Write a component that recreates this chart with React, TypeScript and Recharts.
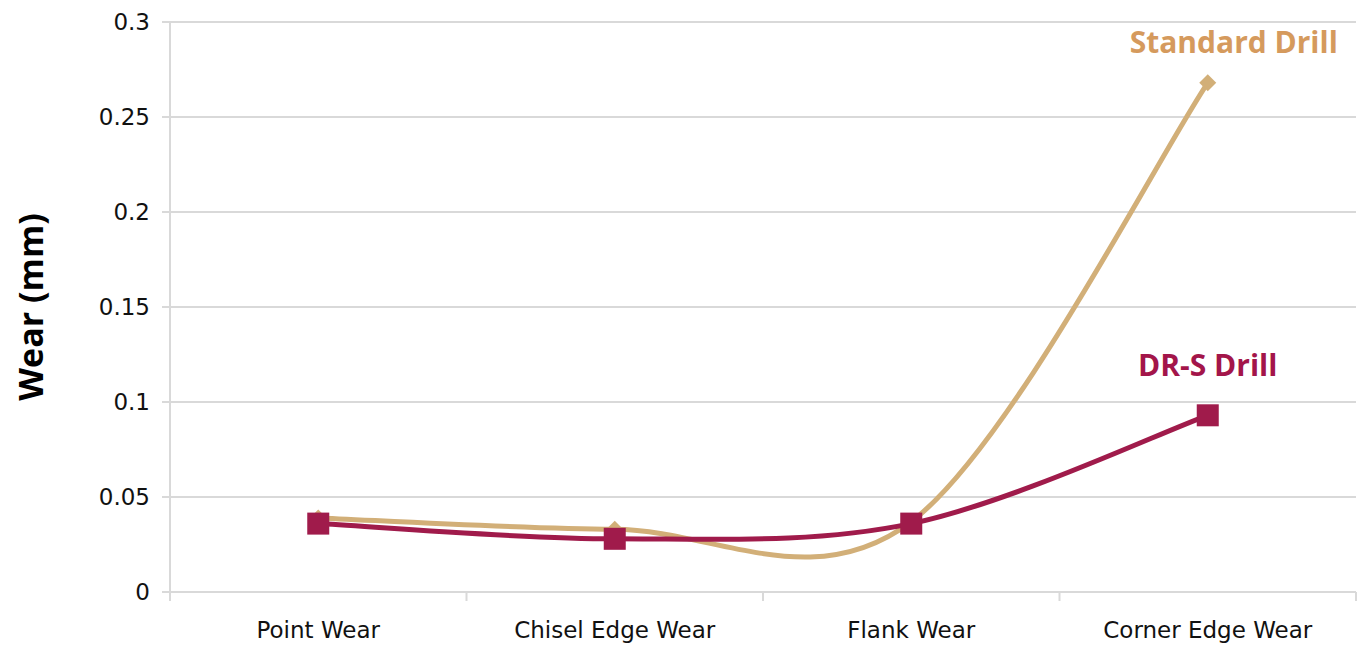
import { LineChart, Line, XAxis, YAxis, CartesianGrid } from "recharts";

const categories = ["Point Wear", "Chisel Edge Wear", "Flank Wear", "Corner Edge Wear"];
const standardDrill = [0.039, 0.033, 0.037, 0.268];
const drsDrill = [0.036, 0.028, 0.036, 0.093];
const yTicks = [0, 0.05, 0.1, 0.15, 0.2, 0.25, 0.3];

const data = categories.map((c, i) => ({ name: c, standard: standardDrill[i], drs: drsDrill[i] }));

const W = 1364;
const H = 648;
const LEFT = 170;
const RIGHT = 8;
const HALF_BAND = (W - LEFT - RIGHT) / categories.length / 2;
const GRID = "#D9D9D9";
const TICK_FONT = "'DejaVu Sans', sans-serif";
const FONT = "'Open Sans', sans-serif";
const TAN = "#D2AF78";
const WINE = "#A01B4B";

// excel-style smoothed line (bezier, control points at 1/6 of neighbour span)
function smoothCurve(context: any) {
  let pts: number[][] = [];
  return {
    areaStart() {},
    areaEnd() {},
    lineStart() { pts = []; },
    point(x: number, y: number) { pts.push([+x, +y]); },
    lineEnd() {
      if (!pts.length) return;
      context.moveTo(pts[0][0], pts[0][1]);
      for (let i = 0; i < pts.length - 1; i++) {
        const p0 = pts[i - 1] || pts[i];
        const p1 = pts[i];
        const p2 = pts[i + 1];
        const p3 = pts[i + 2] || p2;
        context.bezierCurveTo(
          p1[0] + (p2[0] - p0[0]) / 6, p1[1] + (p2[1] - p0[1]) / 6,
          p2[0] - (p3[0] - p1[0]) / 6, p2[1] - (p3[1] - p1[1]) / 6,
          p2[0], p2[1],
        );
      }
    },
  };
}

const Diamond = ({ cx, cy }: any) => (
  <rect x={cx - 6} y={cy - 6} width={12} height={12} fill={TAN}
    transform={`rotate(45 ${cx} ${cy})`} />
);

const Square = ({ cx, cy }: any) => (
  <rect x={cx - 11} y={cy - 11} width={22} height={22} fill={WINE} />
);

const XTick = ({ x, y, payload, index }: any) => (
  <g>
    <line x1={x - HALF_BAND} y1={y - 8} x2={x - HALF_BAND} y2={y + 1} stroke={GRID} strokeWidth={2} />
    {index === categories.length - 1 && (
      <line x1={x + HALF_BAND} y1={y - 8} x2={x + HALF_BAND} y2={y + 1} stroke={GRID} strokeWidth={2} />
    )}
    <text x={x} y={y + 38} textAnchor="middle" fill="#111" fontSize={23} fontFamily={TICK_FONT}>
      {payload.value}
    </text>
  </g>
);

const seriesLabel = (text: string, color: string, dx: number, dy: number) => (props: any) => {
  if (props.index !== categories.length - 1) return null;
  return (
    <text x={props.x + dx} y={props.y + dy} textAnchor="middle" fill={color}
      fontSize={30} fontWeight="bold" fontFamily={FONT}>
      {text}
    </text>
  );
};

export default function App() {
  return (
    <div style={{ position: "absolute", left: 0, top: 0, width: W, height: H, background: "#fff" }}>
      <LineChart width={W} height={H} data={data} margin={{ top: 22, right: RIGHT, bottom: 0, left: 0 }}>
        <CartesianGrid vertical={false} stroke={GRID} strokeWidth={2} />
        <XAxis dataKey="name" height={56} axisLine={{ stroke: GRID, strokeWidth: 2 }}
          padding={{ left: HALF_BAND, right: HALF_BAND }}
          tickLine={false} tick={<XTick />} interval={0} />
        <YAxis width={LEFT} domain={[0, 0.3]} ticks={yTicks} axisLine={{ stroke: GRID, strokeWidth: 2 }}
          tickLine={{ stroke: GRID, strokeWidth: 2 }} tickSize={8} tickMargin={12}
          tick={{ fill: "#111", fontSize: 23, fontFamily: TICK_FONT }}
          label={{ value: "Wear (mm)", angle: -90, position: "insideLeft", dx: 26,
            style: { textAnchor: "middle", fontSize: 34, fontWeight: "bold", fill: "#000", fontFamily: FONT } }} />
        <Line dataKey="standard" type={smoothCurve as any} stroke={TAN} strokeWidth={5}
          dot={<Diamond />} activeDot={false} isAnimationActive={false}
          label={seriesLabel("Standard Drill", "#D59A5D", 26, -30)} />
        <Line dataKey="drs" type={smoothCurve as any} stroke={WINE} strokeWidth={5}
          dot={<Square />} activeDot={false} isAnimationActive={false}
          label={seriesLabel("DR-S Drill", "#A3154A", 0, -39)} />
      </LineChart>
    </div>
  );
}
